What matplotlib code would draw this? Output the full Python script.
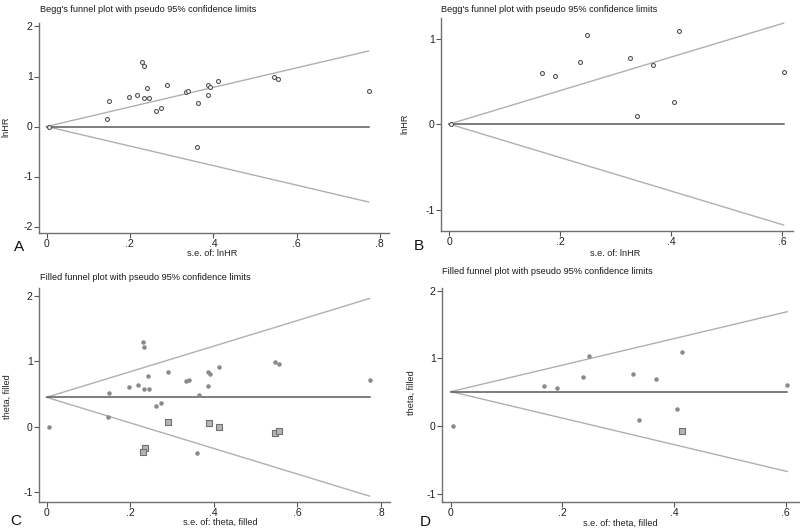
import matplotlib
matplotlib.use("Agg")
import matplotlib.pyplot as plt

plt.rcParams['font.family'] = ['Liberation Sans', 'DejaVu Sans']

# --- study data (panels A and C share one set, B and D another) ---
se_a = [0.005, 0.146, 0.150, 0.197, 0.218, 0.230, 0.234, 0.234, 0.245, 0.242,
        0.262, 0.274, 0.290, 0.334, 0.340, 0.364, 0.361, 0.387, 0.387, 0.392,
        0.412, 0.546, 0.556, 0.773]
lnhr_a = [0.0, 0.15, 0.52, 0.60, 0.64, 1.29, 1.22, 0.58, 0.58, 0.77,
          0.31, 0.37, 0.83, 0.70, 0.72, 0.48, -0.40, 0.63, 0.84, 0.80,
          0.91, 0.99, 0.96, 0.72]

se_b = [0.003, 0.167, 0.191, 0.236, 0.248, 0.326, 0.338, 0.367, 0.405, 0.414, 0.603]
lnhr_b = [0.0, 0.60, 0.56, 0.73, 1.04, 0.77, 0.09, 0.69, 0.26, 1.09, 0.61]

# imputed (trim-and-fill) studies
se_c_fill = [0.290, 0.389, 0.412, 0.546, 0.556, 0.235, 0.232]
theta_c_fill = [0.07, 0.05, 0.0, -0.09, -0.06, -0.32, -0.39]
se_d_fill = [0.414]
theta_d_fill = [-0.07]

# pseudo 95% confidence limit end points (se, centre, upper, lower)
lim_a = dict(se=[0, 0.773], mid=[0, 0], up=[0, 1.51], lo=[0, -1.51])
lim_b = dict(se=[0, 0.603], mid=[0, 0], up=[0, 1.18], lo=[0, -1.18])
lim_c = dict(se=[0, 0.773], mid=[0.45, 0.45], up=[0.45, 1.96], lo=[0.45, -1.06])
lim_d = dict(se=[0, 0.603], mid=[0.51, 0.51], up=[0.51, 1.69], lo=[0.51, -0.67])

W, H = 800, 529
fig = plt.figure(figsize=(W / 100, H / 100), dpi=100)
fig.patch.set_facecolor('white')


def px_axes(l, r, t, b):
    return fig.add_axes([l / W, 1 - b / H, (r - l) / W, (b - t) / H])


def style(ax, xlim, ylim, xticks, xlabels, yticks):
    ax.set_xlim(*xlim)
    ax.set_ylim(*ylim)
    for s in ['top', 'right']:
        ax.spines[s].set_visible(False)
    for s in ['left', 'bottom']:
        ax.spines[s].set_color('#707070')
        ax.spines[s].set_linewidth(1.0)
    ax.set_xticks(xticks)
    ax.set_xticklabels(xlabels)
    ax.set_yticks(yticks)
    ax.set_yticklabels([str(v) for v in yticks])
    ax.tick_params(length=3.5, width=0.8, color='#555555', labelsize=7.5,
                   labelcolor='#222222', pad=1)
    ax.patch.set_alpha(0)


def draw_lims(ax, lim):
    ax.plot(lim['se'], lim['up'], color='#b0b0b0', lw=1.0, zorder=1)
    ax.plot(lim['se'], lim['lo'], color='#b0b0b0', lw=1.0, zorder=1)
    ax.plot(lim['se'], lim['mid'], color='#5a5a5a', lw=1.1, zorder=1)


xl8 = ['0', '.2', '.4', '.6', '.8']
xl6 = ['0', '.2', '.4', '.6']

# Panel A
axA = px_axes(39, 389, 23, 233)
style(axA, (-0.018, 0.822), (-2.13, 2.07), [0, 0.2, 0.4, 0.6, 0.8], xl8, [-2, -1, 0, 1, 2])
draw_lims(axA, lim_a)
axA.scatter(se_a, lnhr_a, s=8, facecolors='white', edgecolors='#555555', linewidths=0.8, zorder=3)

# Panel B
axB = px_axes(441, 793, 18, 231)
style(axB, (-0.015, 0.62), (-1.25, 1.24), [0, 0.2, 0.4, 0.6], xl6, [-1, 0, 1])
draw_lims(axB, lim_b)
axB.scatter(se_b, lnhr_b, s=8, facecolors='white', edgecolors='#555555', linewidths=0.8, zorder=3)

# Panel C
axC = px_axes(39, 390, 288, 502)
style(axC, (-0.018, 0.822), (-1.15, 2.12), [0, 0.2, 0.4, 0.6, 0.8], xl8, [-1, 0, 1, 2])
draw_lims(axC, lim_c)
axC.scatter(se_a, lnhr_a, s=5, color='#8a8a8a', zorder=3)
axC.scatter(se_c_fill, theta_c_fill, s=22, marker='s', facecolors='#b5b5b5',
            edgecolors='#707070', linewidths=0.8, zorder=3)

# Panel D
axD = px_axes(442, 799, 288, 502)
style(axD, (-0.016, 0.624), (-1.12, 2.04), [0, 0.2, 0.4, 0.6], xl6, [-1, 0, 1, 2])
draw_lims(axD, lim_d)
axD.scatter(se_b, lnhr_b, s=5, color='#8a8a8a', zorder=3)
axD.scatter(se_d_fill, theta_d_fill, s=22, marker='s', facecolors='#b5b5b5',
            edgecolors='#707070', linewidths=0.8, zorder=3)

# titles, axis titles, panel letters (placed in pixel coordinates)
def ftext(x, y, s, **kw):
    fig.text(x / W, 1 - y / H, s, **kw)

tk = dict(fontsize=6.6, color='#1a1a1a', va='center', ha='left')
ftext(40, 9, "Begg's funnel plot with pseudo 95% confidence limits", **tk)
ftext(441, 9, "Begg's funnel plot with pseudo 95% confidence limits", **tk)
ftext(40, 278, "Filled funnel plot with pseudo 95% confidence limits", **tk)
ftext(442, 272, "Filled funnel plot with pseudo 95% confidence limits", **tk)

lk = dict(fontsize=6.6, color='#222222', va='center', ha='center')
ftext(212, 254, "s.e. of: lnHR", **lk)
ftext(615, 253, "s.e. of: lnHR", **lk)
ftext(220, 522, "s.e. of: theta, filled", **lk)
ftext(620, 523, "s.e. of: theta, filled", **lk)
ftext(6, 127, "lnHR", rotation=90, **lk)
ftext(405, 124, "lnHR", rotation=90, **lk)
ftext(7, 397, "theta, filled", rotation=90, **lk)
ftext(411, 393, "theta, filled", rotation=90, **lk)

pk = dict(fontsize=11, color='#111111', va='center', ha='center')
ftext(19, 247, "A", **pk)
ftext(419, 246, "B", **pk)
ftext(16, 521, "C", **pk)
ftext(425, 522, "D", **pk)

fig.savefig('out.png', dpi=100, facecolor='white')
